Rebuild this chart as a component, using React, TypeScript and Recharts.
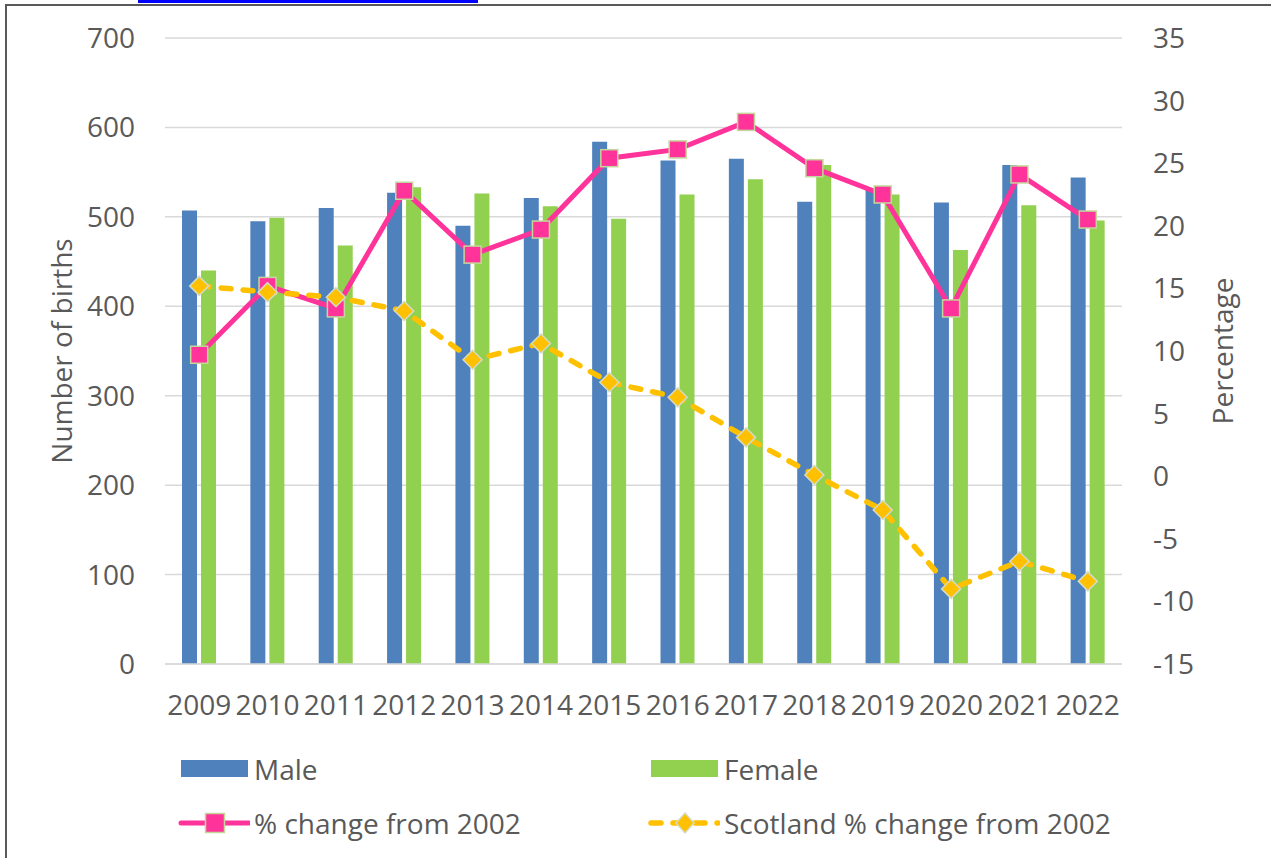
import { ComposedChart, Bar, Line, XAxis, YAxis, CartesianGrid } from 'recharts';

const years = ['2009', '2010', '2011', '2012', '2013', '2014', '2015', '2016', '2017', '2018', '2019', '2020', '2021', '2022'];
const maleBirths = [507, 495, 510, 527, 490, 521, 584, 563, 565, 517, 530, 516, 558, 544];
const femaleBirths = [440, 499, 468, 533, 526, 512, 498, 525, 542, 558, 525, 463, 513, 496];
const pctChange = [9.7, 15.2, 13.4, 22.8, 17.7, 19.7, 25.4, 26.1, 28.3, 24.6, 22.5, 13.4, 24.1, 20.5];
const scotlandChange = [15.2, 14.7, 14.3, 13.2, 9.3, 10.6, 7.5, 6.3, 3.1, 0.1, -2.7, -9.0, -6.8, -8.4];

const leftTicks = [0, 100, 200, 300, 400, 500, 600, 700];
const rightTicks = [-15, -10, -5, 0, 5, 10, 15, 20, 25, 30, 35];

const FONT = '"Open Sans", sans-serif';
const FONT_SIZE = 28;
const TEXT = '#595959';
const MALE = '#4F81BD';
const FEMALE = '#92D050';
const PINK = '#FF3399';
const GOLD = '#FFC000';

const data = years.map((year, i) => ({
  year,
  male: maleBirths[i],
  female: femaleBirths[i],
  pct: pctChange[i],
  scotland: scotlandChange[i],
}));

const tickStyle = { fill: TEXT, fontSize: FONT_SIZE, fontFamily: FONT };

// marker shapes
const SquareDot = (props: any) => {
  const { cx, cy, index } = props;
  return <rect key={`sq-${index}`} x={cx - 8.5} y={cy - 8.5} width={17} height={17} fill={PINK} stroke="#C4D79B" strokeWidth={1.5} />;
};

const DiamondDot = (props: any) => {
  const { cx, cy, index } = props;
  const r = 9.5;
  return (
    <path
      key={`dm-${index}`}
      d={`M${cx},${cy - r}L${cx + r},${cy}L${cx},${cy + r}L${cx - r},${cy}Z`}
      fill={GOLD}
      stroke="#D4DBC4"
      strokeWidth={1.5}
    />
  );
};

const SideLabel = ({ viewBox, text, dx }: any) => {
  const x = viewBox.x + dx;
  const y = viewBox.y + viewBox.height / 2;
  return (
    <text x={x} y={y} transform={`rotate(-90, ${x}, ${y})`} textAnchor="middle" dominantBaseline="central" fill={TEXT} fontSize={FONT_SIZE} fontFamily={FONT}>
      {text}
    </text>
  );
};

const LegendRow = ({ top, left, swatch, label }: { top: number; left: number; swatch: React.ReactNode; label: string }) => (
  <div style={{ position: 'absolute', top, left, display: 'flex', alignItems: 'center', height: 30 }}>
    <svg width={72} height={30}>{swatch}</svg>
    <span style={{ marginLeft: 4, fontFamily: FONT, fontSize: FONT_SIZE, color: TEXT, lineHeight: '30px' }}>{label}</span>
  </div>
);

export default function App() {
  return (
    <div style={{ position: 'absolute', left: 0, top: 0, width: 1271, height: 858, overflow: 'hidden', background: '#fff' }}>
      {/* frame and link underline from the source page */}
      <div style={{ position: 'absolute', left: 138, top: 0, width: 340, height: 2.5, background: '#0000FF' }} />
      <div style={{ position: 'absolute', left: 5, top: 4, width: 1400, height: 1000, borderLeft: '2px solid #595959', borderTop: '2px solid #595959' }} />

      <div style={{ position: 'absolute', left: 0, top: 0 }}>
        <ComposedChart width={1271} height={858} data={data} margin={{ top: 38, right: 0, bottom: 0, left: 0 }}>
          <CartesianGrid yAxisId="left" vertical={false} stroke="#D9D9D9" strokeWidth={1.5} />
          <XAxis
            dataKey="year"
            height={194}
            interval={0}
            tickLine={false}
            tickSize={0}
            tickMargin={31}
            axisLine={{ stroke: '#D9D9D9', strokeWidth: 1.5 }}
            tick={tickStyle}
          />
          <YAxis
            yAxisId="left"
            width={165}
            domain={[0, 700]}
            ticks={leftTicks}
            axisLine={false}
            tickLine={false}
            tickSize={0}
            tickMargin={30}
            tick={tickStyle}
            label={<SideLabel text="Number of births" dx={61} />}
          />
          <YAxis
            yAxisId="right"
            orientation="right"
            width={149}
            domain={[-15, 35]}
            ticks={rightTicks}
            axisLine={false}
            tickLine={false}
            tickSize={0}
            tickMargin={31}
            tick={{ ...tickStyle, textAnchor: 'start' }}
            label={<SideLabel text="Percentage" dx={100} />}
          />
          <Bar yAxisId="left" dataKey="male" name="Male" fill={MALE} barSize={15} isAnimationActive={false} />
          <Bar yAxisId="left" dataKey="female" name="Female" fill={FEMALE} barSize={15} isAnimationActive={false} />
          <Line
            yAxisId="right"
            type="linear"
            dataKey="pct"
            name="% change from 2002"
            stroke={PINK}
            strokeWidth={5}
            dot={SquareDot}
            activeDot={false}
            isAnimationActive={false}
          />
          <Line
            yAxisId="right"
            type="linear"
            dataKey="scotland"
            name="Scotland % change from 2002"
            stroke={GOLD}
            strokeWidth={5.5}
            strokeDasharray="10 12"
            strokeLinecap="round"
            dot={DiamondDot}
            activeDot={false}
            isAnimationActive={false}
          />
        </ComposedChart>
      </div>

      {/* legend */}
      <LegendRow top={754} left={178} label="Male" swatch={<rect x={3} y={6} width={67} height={17} fill={MALE} />} />
      <LegendRow top={754} left={648} label="Female" swatch={<rect x={3} y={6} width={67} height={17} fill={FEMALE} />} />
      <LegendRow
        top={808}
        left={178}
        label="% change from 2002"
        swatch={
          <g>
            <line x1={3} y1={15} x2={71} y2={15} stroke={PINK} strokeWidth={5} strokeLinecap="round" />
            <rect x={27.5} y={5.5} width={19} height={19} fill={PINK} stroke="#C4D79B" strokeWidth={1.5} />
          </g>
        }
      />
      <LegendRow
        top={808}
        left={648}
        label="Scotland % change from 2002"
        swatch={
          <g>
            <line x1={3} y1={15} x2={70} y2={15} stroke={GOLD} strokeWidth={5.5} strokeDasharray="10 12" strokeLinecap="round" />
            <path d="M37,5L46,15L37,25L28,15Z" fill={GOLD} stroke="#D4DBC4" strokeWidth={1.5} />
          </g>
        }
      />
    </div>
  );
}
